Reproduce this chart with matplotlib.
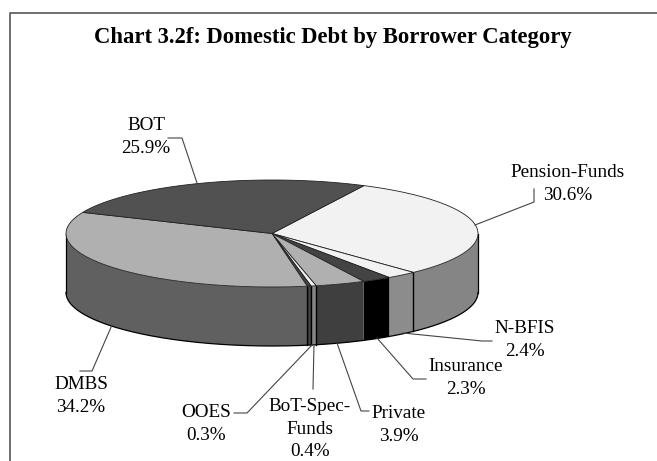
import numpy as np
import matplotlib
matplotlib.use("Agg")
import matplotlib.pyplot as plt
from matplotlib.patches import Polygon

plt.rcParams["font.family"] = ["Liberation Serif", "DejaVu Serif"]

W, H = 657, 461

categories = ["Pension-Funds", "N-BFIS", "Insurance", "Private", "BoT-Spec-\nFunds", "OOES", "DMBS", "BOT"]
shares = [30.6, 2.4, 2.3, 3.9, 0.4, 0.3, 34.2, 25.9]
top_colors = ["#f2f2f2", "#f2f2f2", "#444444", "#b0b0b0", "#f2f2f2", "#444444", "#b0b0b0", "#515151"]
side_colors = ["#858585", "#8c8c8c", "#000000", "#3f3f3f", "#858585", "#3f3f3f", "#606060", "#3f3f3f"]
label_x = [568, 525, 466, 399, 310, 206, 81, 146]
label_y = [184, 340, 378, 425, 429, 424, 396, 137]

fig = plt.figure(figsize=(W / 100, H / 100), dpi=100)
ax = fig.add_axes([0, 0, 1, 1])
ax.set_xlim(0, W)
ax.set_ylim(H, 0)
ax.axis("off")

ax.plot([10, 10, W], [H, 13, 13], color="#555555", lw=1.2)

ax.text(333, 38, "Chart 3.2f: Domestic Debt by Borrower Category", ha="center", va="center",
        fontsize=16.3, fontweight="bold", color="black")

cx, cy, rx, ry, depth = 272, 233.5, 206, 53.5, 59


def rim(t):
    return cx + rx * np.cos(t), cy + ry * np.sin(t)


start = np.radians(-63.5)
edges = start + np.cumsum([0] + shares) / sum(shares) * 2 * np.pi

# only the front half of the wall shows
for i in range(len(shares)):
    lo, hi = max(edges[i], 0), min(edges[i + 1], np.pi)
    if hi <= lo:
        continue
    t = np.linspace(lo, hi, 60)
    x, y = rim(t)
    pts = np.r_[np.c_[x, y], np.c_[x[::-1], y[::-1] + depth]]
    ax.add_patch(Polygon(pts, fc=side_colors[i], ec="none", zorder=2))

t = np.linspace(0, np.pi, 200)
x, y = rim(t)
ax.plot(x, y + depth, color="black", lw=0.9, zorder=3)
ax.plot([x[0], x[0]], [y[0], y[0] + depth], color="black", lw=0.9, zorder=3)
ax.plot([x[-1], x[-1]], [y[-1], y[-1] + depth], color="black", lw=0.9, zorder=3)

# dark dividers on the wall
for i in [1, 4, 5, 6]:
    x0, y0 = rim(edges[i])
    ax.plot([x0, x0], [y0, y0 + depth], color="black", lw=1.0, zorder=3)

# top face
for i in range(len(shares)):
    t = np.linspace(edges[i], edges[i + 1], 80)
    x, y = rim(t)
    pts = np.r_[[(cx, cy)], np.c_[x, y]]
    ax.add_patch(Polygon(pts, fc=top_colors[i], ec="#222222", lw=0.6, zorder=4))

# leader lines
leaders = [
    ([475, 534, 534], [225, 202, 189]),
    ([403, 482, 492], [333, 341, 341]),
    ([377, 413, 426], [338, 379, 379]),
    ([337, 361, 369], [343, 411, 411]),
    ([314, 313], [345, 389]),
    ([312, 247, 234], [345, 413, 413]),
    ([112, 92, 80], [325, 371, 371]),
    ([197, 182, 168], [183, 138, 138]),
]
for xs, ys in leaders:
    ax.plot(xs, ys, color="#444444", lw=0.8, zorder=5)

for name, share, x, y in zip(categories, shares, label_x, label_y):
    ax.text(x, y, f"{name}\n{share}%", ha="center", va="center", fontsize=13.8,
            color="black", linespacing=1.42, zorder=6)

fig.savefig("out.png", dpi=100)
